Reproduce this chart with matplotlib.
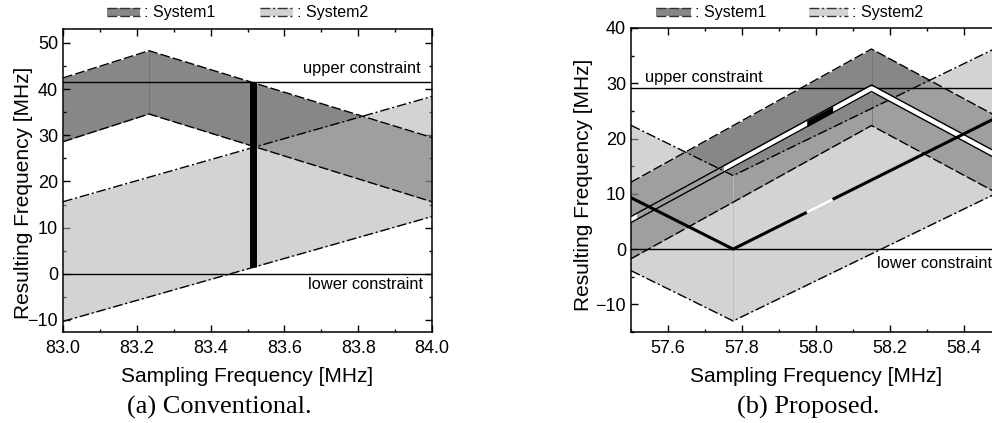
import matplotlib.pyplot as plt
from matplotlib.patches import Rectangle
from matplotlib.lines import Line2D
from matplotlib.ticker import MultipleLocator
import numpy as np

plt.rcParams['font.family'] = ['Liberation Sans', 'DejaVu Sans']

# (a) Conventional
a_sys1_x = [83.0, 83.233, 84.0]
a_sys1_hi = [42.4, 48.3, 29.5]
a_sys1_lo = [28.6, 34.6, 15.6]
a_sys2_x = [83.0, 84.0]
a_sys2_hi = [15.6, 38.4]
a_sys2_lo = [-10.3, 12.4]
a_upper = 41.6
a_lower = 0.0
a_fs = 83.516
a_bar = [1.4, 41.6]

# (b) Proposed
b_sys1_x = [57.5, 58.15, 58.5]
b_sys1_hi = [12.1, 36.2, 23.6]
b_sys1_lo = [-1.75, 22.35, 9.75]
b_sys2_x = [57.5, 57.776, 58.5]
b_sys2_hi = [22.4, 13.3, 36.8]
b_sys2_lo = [-3.9, -13.0, 10.5]
b_sig1_x = [57.5, 58.15, 58.5]
b_sig1_hi = [5.9, 29.7, 17.1]
b_sig1_lo = [4.8, 28.5, 15.9]
b_sig2_x = [57.5, 57.776, 58.5]
b_sig2_y = [9.3, 0.0, 24.2]
b_upper = 29.1
b_lower = 0.0
b_white = [(57.5, 57.515), (57.75, 58.5)]
b_sel = (57.975, 58.045)

DARK = '#878787'
LIGHT2 = '#b2b2b2'   # drawn with alpha -> light gray on white
A2 = 0.57
DASH = (0, (7, 2.2))
DASHDOT = (0, (7, 2, 1.5, 2))

W, H = 992, 423
fig = plt.figure(figsize=(W / 100, H / 100), dpi=100)


def px_axes(l, t, r, b):
    return fig.add_axes([l / W, 1 - b / H, (r - l) / W, (b - t) / H])


def style(ax):
    ax.tick_params(which='both', direction='in', top=True, right=True,
                   labelsize=13, width=1)
    ax.tick_params(which='major', length=5)
    ax.tick_params(which='minor', length=2.5)
    ax.tick_params(axis='x', pad=6)
    ax.xaxis.set_major_locator(MultipleLocator(0.2))
    ax.xaxis.set_minor_locator(MultipleLocator(0.1))
    ax.yaxis.set_major_locator(MultipleLocator(10))
    ax.yaxis.set_minor_locator(MultipleLocator(5))
    for s in ax.spines.values():
        s.set_linewidth(1.1)
    ax.set_xlabel('Sampling Frequency [MHz]', fontsize=15)
    ax.set_ylabel('Resulting Frequency [MHz]', fontsize=15)


def band(ax, x, lo, hi, sys1):
    if sys1:
        ax.fill_between(x, lo, hi, color=DARK, lw=0, zorder=1)
        ls = DASH
    else:
        ax.fill_between(x, lo, hi, color=LIGHT2, alpha=A2, lw=0, zorder=2)
        ls = DASHDOT
    ax.plot(x, hi, color='black', lw=1, ls=ls, zorder=4)
    ax.plot(x, lo, color='black', lw=1, ls=ls, zorder=4)


# ---- (a) ----
ax = px_axes(63, 29, 432, 332)
band(ax, a_sys1_x, a_sys1_lo, a_sys1_hi, True)
band(ax, a_sys2_x, a_sys2_lo, a_sys2_hi, False)
ax.plot([a_sys1_x[1]] * 2, [a_sys1_lo[1], a_sys1_hi[1]], color='#707070', lw=0.6, zorder=3)
ax.axhline(a_upper, color='black', lw=1, zorder=5)
ax.axhline(a_lower, color='black', lw=1, zorder=5)
ax.plot([a_fs, a_fs], a_bar, color='black', lw=5, solid_capstyle='butt', zorder=6)
ax.text(83.969, 44.4, 'upper constraint', ha='right', va='center', fontsize=11.8)
ax.text(83.976, -2.4, 'lower constraint', ha='right', va='center', fontsize=11.8)
ax.set_xlim(83.0, 84.0)
ax.set_ylim(-12.6, 53.0)
style(ax)
ax.xaxis.set_label_coords(0.5, -0.115)
ax.yaxis.set_label_coords(-0.081, 0.459)

# ---- (b) ----
bx = px_axes(631, 28, 1001, 332)
band(bx, b_sys1_x, b_sys1_lo, b_sys1_hi, True)
band(bx, b_sys2_x, b_sys2_lo, b_sys2_hi, False)
bx.plot([b_sys2_x[1]] * 2, [b_sys2_lo[1], b_sys2_hi[1]], color='#bcbcbc', lw=0.6, zorder=3)
bx.plot([b_sys1_x[1]] * 2, [b_sys1_lo[1], b_sys1_hi[1]], color='#747474', lw=0.6, zorder=3)
bx.axhline(b_upper, color='black', lw=1, zorder=5)
bx.axhline(b_lower, color='black', lw=1, zorder=5)

# signal of system 1: double line, white where free, black at chosen fs
for (x0, x1), c in [(b_white[0], 'white'), (b_white[1], 'white'), (b_sel, 'black')]:
    xs = np.linspace(x0, x1, 60)
    bx.fill_between(xs, np.interp(xs, b_sig1_x, b_sig1_lo), np.interp(xs, b_sig1_x, b_sig1_hi),
                    color=c, lw=0, zorder=6)
bx.plot(b_sig1_x, b_sig1_hi, color='black', lw=1, zorder=7)
bx.plot(b_sig1_x, b_sig1_lo, color='black', lw=1, zorder=7)

# signal of system 2: thick line with white gap at chosen fs
bx.plot(b_sig2_x, b_sig2_y, color='black', lw=2.2, zorder=7)
xs = np.linspace(b_sel[0], b_sel[1], 20)
bx.plot(xs, np.interp(xs, b_sig2_x, b_sig2_y), color='white', lw=2.4,
        solid_capstyle='butt', zorder=8)

bx.text(57.538, 31.0, 'upper constraint', ha='left', va='center', fontsize=11.8)
bx.text(58.164, -2.55, 'lower constraint', ha='left', va='center', fontsize=11.8)
bx.set_xlim(57.5, 58.5)
bx.set_ylim(-15, 40)
style(bx)
bx.xaxis.set_label_coords(0.5, -0.115)
bx.yaxis.set_label_coords(-0.103, 0.484)


# ---- legends (pixel positions) ----
def key(x0, x1, face, ls, label):
    y0, y1 = 8, 16
    fig.add_artist(Rectangle((x0 / W, 1 - y1 / H), (x1 - x0) / W, (y1 - y0) / H,
                             transform=fig.transFigure, facecolor=face, edgecolor='none'))
    for y in (y0, y1):
        fig.add_artist(Line2D([x0 / W, x1 / W], [1 - y / H] * 2, transform=fig.transFigure,
                              color='#333333', lw=1, ls=ls))
    fig.text((x1 + 4) / W, 1 - 12.5 / H, ': ' + label, ha='left', va='center', fontsize=11.5)


key(107, 140, DARK, DASH, 'System1')
key(260, 293, '#d3d3d3', DASHDOT, 'System2')
key(656, 691, DARK, DASH, 'System1')
key(809, 848, '#d3d3d3', DASHDOT, 'System2')

fig.text(219 / W, 1 - 407 / H, '(a) Conventional.', ha='center', va='center',
         fontsize=19, family=['Liberation Serif', 'DejaVu Serif'])
fig.text(808 / W, 1 - 407 / H, '(b) Proposed.', ha='center', va='center',
         fontsize=19, family=['Liberation Serif', 'DejaVu Serif'])

fig.savefig('out.png', dpi=100)
